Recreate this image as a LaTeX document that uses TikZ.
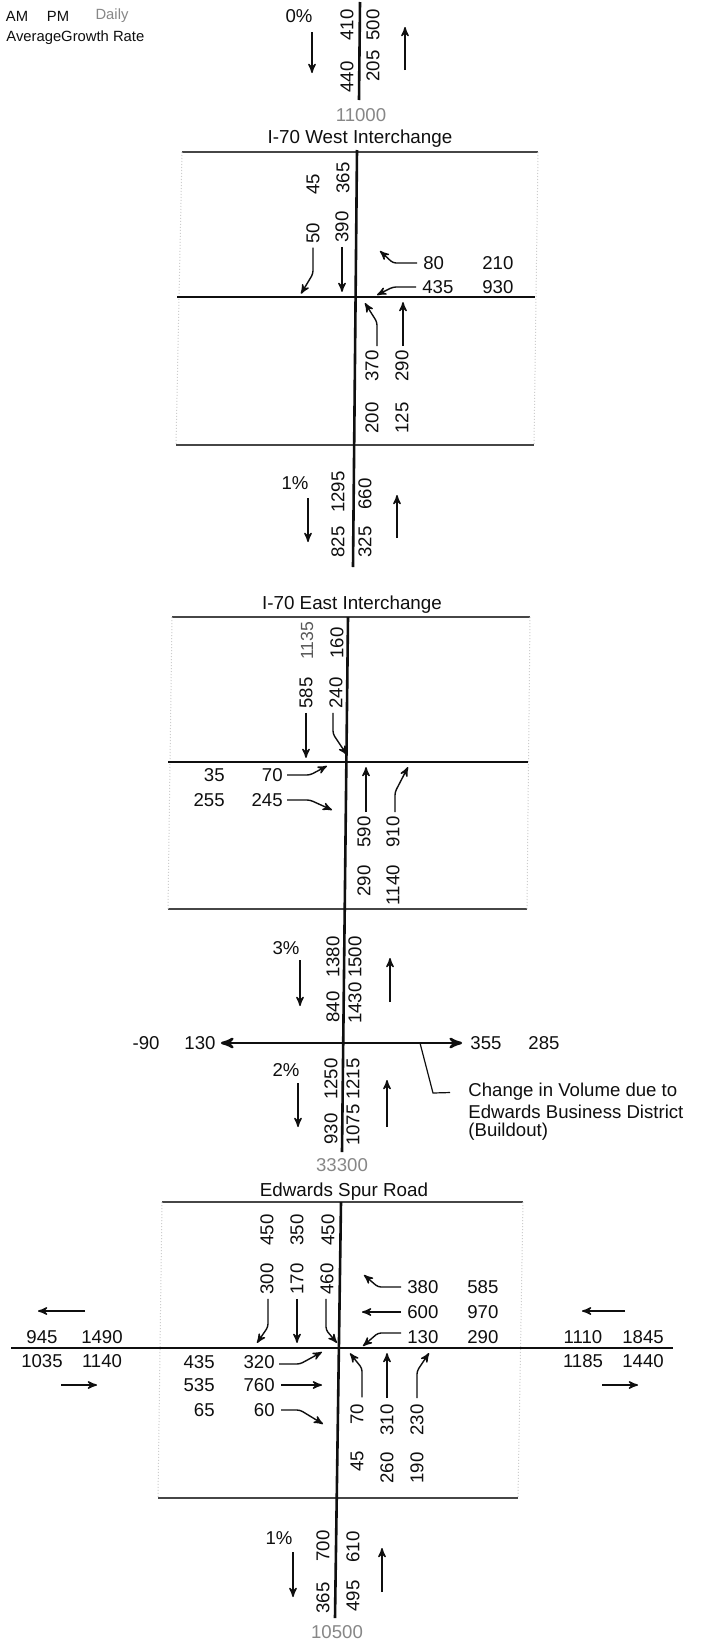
\documentclass[tikz,border=0pt]{standalone}
\usepackage{fontspec}
\setmainfont{Liberation Sans}
\usepackage{xcolor}
\definecolor{inkBlack}{RGB}{15,15,15}
\definecolor{lineGray}{RGB}{70,70,70}
\definecolor{dotGray}{RGB}{205,205,205}
\definecolor{totalGray}{RGB}{135,135,135}
\usepackage{tikz}
\usetikzlibrary{arrows,positioning}
\newcommand{\volfont}{\fontsize{9.3}{10}\selectfont}
\newcommand{\hdrfont}{\fontsize{7.4}{9}\selectfont}
\newcommand{\ttlfont}{\fontsize{9.4}{11}\selectfont}
\tikzstyle{volnum}=[inner sep=0pt, font=\volfont, text=inkBlack]
\tikzstyle{volvert}=[volnum, rotate=90]
\tikzstyle{totalnum}=[inner sep=0pt, font=\volfont, text=totalGray]
\tikzstyle{sectitle}=[inner sep=0pt, font=\ttlfont, text=inkBlack]
\tikzstyle{hdrtext}=[inner sep=0pt, font=\hdrfont, text=inkBlack]
\tikzstyle{roadline}=[line width=1.4pt, color=inkBlack]
\tikzstyle{trunkline}=[line width=1.3pt, color=inkBlack]
\tikzstyle{boxline}=[line width=0.6pt, color=lineGray]
\tikzstyle{boxside}=[line width=0.5pt, color=dotGray, densely dotted]
\tikzstyle{leaderline}=[line width=0.6pt, color=inkBlack]
\tikzstyle{turnarrow}=[->, >=stealth', line width=0.7pt, color=inkBlack, rounded corners=1.5pt]
\tikzstyle{flowarrow}=[->, >=stealth', line width=0.7pt, color=inkBlack]
\tikzstyle{widearrow}=[<->, >=stealth', line width=1.2pt, color=inkBlack]

\begin{document}
\begin{tikzpicture}[x=0.5pt, y=-0.5pt]
        \fill[white] (0,0) rectangle (704,1644);
        \useasboundingbox (0,0) rectangle (704,1644);

        % Legend
        \node[hdrtext] (hdrAM) at (17,16) {AM};
        \node[hdrtext] (hdrPM) at (58,16) {PM};
        \node[hdrtext, text=totalGray] (hdrDaily) at (112,16) {Daily};
        \node[hdrtext, anchor=west] (hdrRate) at (6,38) {AverageGrowth Rate};

        % North leg of I-70 West
        \coordinate (tTop) at (360,2);
        \coordinate (tBot) at (359,100);
        \draw[trunkline] (tTop) -- (tBot);
        \node[volnum] (tPct) at (299,16) {0\%};
        \node[volvert] (tSb1) at (347,25) {410};
        \node[volvert] (tSb2) at (347,77) {440};
        \node[volvert] (tNb1) at (373,25) {500};
        \node[volvert] (tNb2) at (373,66) {205};
        \coordinate (tDnA) at (312,32);
        \coordinate (tDnB) at (312,73);
        \coordinate (tUpA) at (405,70);
        \coordinate (tUpB) at (405,27);
        \draw[flowarrow] (tDnA) -- (tDnB);
        \draw[flowarrow] (tUpA) -- (tUpB);
        \node[totalnum] (tAdt) at (361,115) {11000};

        % I-70 West Interchange
        \node[sectitle] (wTitle) at (360,139) {I-70 West Interchange};
        \coordinate (wBoxTL) at (182,152);
        \coordinate (wBoxTR) at (538,152);
        \coordinate (wBoxBL) at (176,445);
        \coordinate (wBoxBR) at (534,445);
        \draw[boxline] (wBoxTL) -- (wBoxTR);
        \draw[boxline] (wBoxBL) -- (wBoxBR);
        \draw[boxside] (wBoxTL) -- (wBoxBL);
        \draw[boxside] (wBoxTR) -- (wBoxBR);
        \coordinate (wN) at (357,150);
        \coordinate (wS) at (353,567);
        \draw[trunkline] (wN) -- (wS);
        \coordinate (wW) at (177,297);
        \coordinate (wE) at (535,297);
        \draw[roadline] (wW) -- (wE);

        \node[volvert] (w45) at (313,184) {45};
        \node[volvert] (w365) at (343,178) {365};
        \node[volvert] (w50) at (313,233) {50};
        \node[volvert] (w390) at (342,227) {390};
        \node[volnum, anchor=west] (w80) at (423,263) {80};
        \node[volnum, anchor=west] (w210) at (482,263) {210};
        \node[volnum, anchor=west] (w435) at (422,287) {435};
        \node[volnum, anchor=west] (w930) at (482,287) {930};
        \node[volvert] (w370) at (372,366) {370};
        \node[volvert] (w290) at (402,366) {290};
        \node[volvert] (w200) at (372,418) {200};
        \node[volvert] (w125) at (402,418) {125};

        \draw[turnarrow, shorten <=2pt] (w50.west) -- ++(0,30) -- ++(-12,20);
        \draw[flowarrow, shorten <=2pt] (w390.west) -- ++(0,49);
        \draw[turnarrow, shorten <=3pt] (w80.west) -- ++(-30,0) -- ++(-13,-12);
        \draw[turnarrow, shorten <=3pt] (w435.west) -- ++(-29,0) -- ++(-16,8);
        \draw[turnarrow, shorten <=2pt] ([xshift=2.5pt]w370.east) -- ++(0,-28) -- ++(-12,-19);
        \draw[flowarrow, shorten <=2pt] ([xshift=0.5pt]w290.east) -- ++(0,-48);

        % South leg of I-70 West
        \node[volnum] (wPct) at (295,483) {1\%};
        \node[volvert] (wSb1) at (338,492) {1295};
        \node[volvert] (wSb2) at (338,542) {825};
        \node[volvert] (wNb1) at (365,494) {660};
        \node[volvert] (wNb2) at (365,542) {325};
        \coordinate (wDnA) at (308,498);
        \coordinate (wDnB) at (308,542);
        \coordinate (wUpA) at (397,538);
        \coordinate (wUpB) at (397,495);
        \draw[flowarrow] (wDnA) -- (wDnB);
        \draw[flowarrow] (wUpA) -- (wUpB);

        % I-70 East Interchange
        \node[sectitle] (eTitle) at (352,605) {I-70 East Interchange};
        \coordinate (eBoxTL) at (172,617);
        \coordinate (eBoxTR) at (530,617);
        \coordinate (eBoxBL) at (168,909);
        \coordinate (eBoxBR) at (527,909);
        \draw[boxline] (eBoxTL) -- (eBoxTR);
        \draw[boxline] (eBoxBL) -- (eBoxBR);
        \draw[boxside] (eBoxTL) -- (eBoxBL);
        \draw[boxside] (eBoxTR) -- (eBoxBR);
        \coordinate (eN) at (348,617);
        \coordinate (mS) at (342,1152);
        \draw[trunkline] (eN) -- (mS);
        \coordinate (eW) at (168,762);
        \coordinate (eE) at (528,762);
        \draw[roadline] (eW) -- (eE);

        \node[volvert, text=black!65, font=\fontsize{8.8}{10}\selectfont] (e1135) at (307,641) {1135};
        \node[volvert] (e160) at (337,643) {160};
        \node[volvert] (e585) at (306,693) {585};
        \node[volvert] (e240) at (336,693) {240};
        \node[volnum, anchor=east] (e35) at (225,775) {35};
        \node[volnum, anchor=east] (e70) at (283,775) {70};
        \node[volnum, anchor=east] (e255) at (225,800) {255};
        \node[volnum, anchor=east] (e245) at (283,800) {245};
        \node[volvert] (e590) at (364,832) {590};
        \node[volvert] (e910) at (393,832) {910};
        \node[volvert] (e290) at (364,881) {290};
        \node[volvert] (e1140) at (393,885) {1140};

        \draw[flowarrow, shorten <=2pt] (e585.west) -- ++(0,49);
        \draw[turnarrow, shorten <=2pt] ([xshift=-1.5pt]e240.west) -- ++(0,25) -- ++(14,21);
        \draw[turnarrow, shorten <=2pt] (e70.east) -- ++(27,0) -- ++(17,-9);
        \draw[turnarrow, shorten <=2pt] (e245.east) -- ++(27,0) -- ++(22,10);
        \draw[flowarrow, shorten <=2pt] ([xshift=1pt]e590.east) -- ++(0,-49);
        \draw[turnarrow, shorten <=2pt] ([xshift=1pt]e910.east) -- ++(0,-24) -- ++(13,-25);

        % Between the interchanges
        \node[volnum] (mPctN) at (286,948) {3\%};
        \node[volvert] (mSb1) at (333,957) {1380};
        \node[volvert] (mSb2) at (333,1007) {840};
        \node[volvert] (mNb1) at (355,957) {1500};
        \node[volvert] (mNb2) at (355,1003) {1430};
        \coordinate (mDnA) at (300,960);
        \coordinate (mDnB) at (300,1006);
        \coordinate (mUpA) at (390,1002);
        \coordinate (mUpB) at (390,958);
        \draw[flowarrow] (mDnA) -- (mDnB);
        \draw[flowarrow] (mUpA) -- (mUpB);

        \node[volnum] (mNeg) at (146,1043) {-90};
        \node[volnum] (m130) at (200,1043) {130};
        \node[volnum] (m355) at (486,1043) {355};
        \node[volnum] (m285) at (544,1043) {285};
        \draw[widearrow, shorten <=2.5pt, shorten >=4pt] (m130.east) -- (m355.west);

        \node[volnum, anchor=west] (mNote1) at (468,1092) {Change in Volume due to};
        \node[volnum, anchor=west] (mNote2) at (468,1112) {Edwards Business District};
        \node[volnum, anchor=west] (mNote3) at (468,1132) {(Buildout)};
        \coordinate (mLdr) at (420,1043);
        \draw[leaderline, shorten >=9pt] (mLdr) -- ++(13,50) -- (mNote1.west);

        \node[volnum] (mPctS) at (286,1070) {2\%};
        \node[volvert] (mSb3) at (331,1079) {1250};
        \node[volvert] (mNb3) at (353,1079) {1215};
        \node[volvert] (mSb4) at (331,1129) {930};
        \node[volvert] (mNb4) at (353,1125) {1075};
        \coordinate (mDnC) at (298,1083);
        \coordinate (mDnD) at (298,1127);
        \coordinate (mUpC) at (387,1127);
        \coordinate (mUpD) at (387,1080);
        \draw[flowarrow] (mDnC) -- (mDnD);
        \draw[flowarrow] (mUpC) -- (mUpD);
        \node[totalnum] (mAdt) at (342,1165) {33300};

        % Edwards Spur Road
        \node[sectitle] (sTitle) at (344,1192) {Edwards Spur Road};
        \coordinate (sBoxTL) at (162,1202);
        \coordinate (sBoxTR) at (523,1202);
        \coordinate (sBoxBL) at (158,1498);
        \coordinate (sBoxBR) at (518,1498);
        \draw[boxline] (sBoxTL) -- (sBoxTR);
        \draw[boxline] (sBoxBL) -- (sBoxBR);
        \draw[boxside] (sBoxTL) -- (sBoxBL);
        \draw[boxside] (sBoxTR) -- (sBoxBR);
        \coordinate (sN) at (341,1202);
        \coordinate (bS) at (335,1618);
        \draw[trunkline] (sN) -- (bS);
        \coordinate (sW) at (11,1348);
        \coordinate (sE) at (673,1348);
        \draw[roadline] (sW) -- (sE);

        \node[volvert] (sSbR) at (267,1230) {450};
        \node[volvert] (sSbT) at (297,1230) {350};
        \node[volvert] (sSbL) at (328,1230) {450};
        \node[volvert] (s300) at (267,1279) {300};
        \node[volvert] (s170) at (297,1279) {170};
        \node[volvert] (s460) at (327,1279) {460};
        \draw[turnarrow, shorten <=2pt] ([xshift=0.5pt]s300.west) -- ++(0,32) -- ++(-11,16);
        \draw[flowarrow, shorten <=2pt] (s170.west) -- ++(0,48);
        \draw[turnarrow, shorten <=2pt] ([xshift=-0.5pt]s460.west) -- ++(0,35) -- ++(11,13);

        \node[volnum, anchor=west] (s380) at (407,1287) {380};
        \node[volnum, anchor=west] (s585) at (467,1287) {585};
        \node[volnum, anchor=west] (s600) at (407,1312) {600};
        \node[volnum, anchor=west] (s970) at (467,1312) {970};
        \node[volnum, anchor=west] (s130) at (407,1337) {130};
        \node[volnum, anchor=west] (s290) at (467,1337) {290};
        \draw[turnarrow, shorten <=3pt] (s380.west) -- ++(-29,0) -- ++(-14,-12);
        \draw[flowarrow, shorten <=3pt] (s600.west) -- ++(-45,0);
        \draw[turnarrow, shorten <=3pt] ([yshift=2pt]s130.west) -- ++(-29,0) -- ++(-15,13);

        \node[volnum, anchor=east] (s435) at (215,1362) {435};
        \node[volnum, anchor=east] (s320) at (275,1362) {320};
        \node[volnum, anchor=east] (s535) at (215,1385) {535};
        \node[volnum, anchor=east] (s760) at (275,1385) {760};
        \node[volnum, anchor=east] (s65) at (215,1410) {65};
        \node[volnum, anchor=east] (s60) at (275,1410) {60};
        \draw[turnarrow, shorten <=2pt] ([yshift=-1pt]s320.east) -- ++(25,0) -- ++(22,-12);
        \draw[flowarrow, shorten <=3pt] (s760.east) -- ++(47,0);
        \draw[turnarrow, shorten <=3pt] (s60.east) -- ++(25,0) -- ++(23,14);

        \node[volvert] (s70) at (357,1414) {70};
        \node[volvert] (s310) at (387,1420) {310};
        \node[volvert] (s230) at (417,1420) {230};
        \node[volvert] (s45) at (357,1461) {45};
        \node[volvert] (s260) at (387,1468) {260};
        \node[volvert] (s190) at (417,1468) {190};
        \draw[turnarrow, shorten <=3pt] ([xshift=2.5pt]s70.east) -- ++(0,-35) -- ++(-12,-15);
        \draw[flowarrow, shorten <=3pt] (s310.east) -- ++(0,-51);
        \draw[turnarrow, shorten <=3pt] (s230.east) -- ++(0,-33) -- ++(12,-18);

        % West and east legs of Edwards Spur Road
        \coordinate (sWoutA) at (85,1311);
        \coordinate (sWoutB) at (38,1311);
        \coordinate (sWinA) at (61,1385);
        \coordinate (sWinB) at (97,1385);
        \draw[flowarrow] (sWoutA) -- (sWoutB);
        \draw[flowarrow] (sWinA) -- (sWinB);
        \node[volnum] (sW945) at (42,1337) {945};
        \node[volnum] (sW1490) at (102,1337) {1490};
        \node[volnum] (sW1035) at (42,1361) {1035};
        \node[volnum] (sW1140) at (102,1361) {1140};

        \coordinate (sEinA) at (625,1311);
        \coordinate (sEinB) at (582,1311);
        \coordinate (sEoutA) at (602,1385);
        \coordinate (sEoutB) at (638,1385);
        \draw[flowarrow] (sEinA) -- (sEinB);
        \draw[flowarrow] (sEoutA) -- (sEoutB);
        \node[volnum] (sE1110) at (583,1337) {1110};
        \node[volnum] (sE1845) at (643,1337) {1845};
        \node[volnum] (sE1185) at (583,1361) {1185};
        \node[volnum] (sE1440) at (643,1361) {1440};

        % South leg
        \node[volnum] (bPct) at (279,1538) {1\%};
        \node[volvert] (bSb1) at (323,1546) {700};
        \node[volvert] (bSb2) at (323,1598) {365};
        \node[volvert] (bNb1) at (353,1547) {610};
        \node[volvert] (bNb2) at (353,1596) {495};
        \coordinate (bDnA) at (293,1552);
        \coordinate (bDnB) at (293,1597);
        \coordinate (bUpA) at (382,1592);
        \coordinate (bUpB) at (382,1548);
        \draw[flowarrow] (bDnA) -- (bDnB);
        \draw[flowarrow] (bUpA) -- (bUpB);
        \node[totalnum] (bAdt) at (337,1632) {10500};
      \end{tikzpicture}
\end{document}
